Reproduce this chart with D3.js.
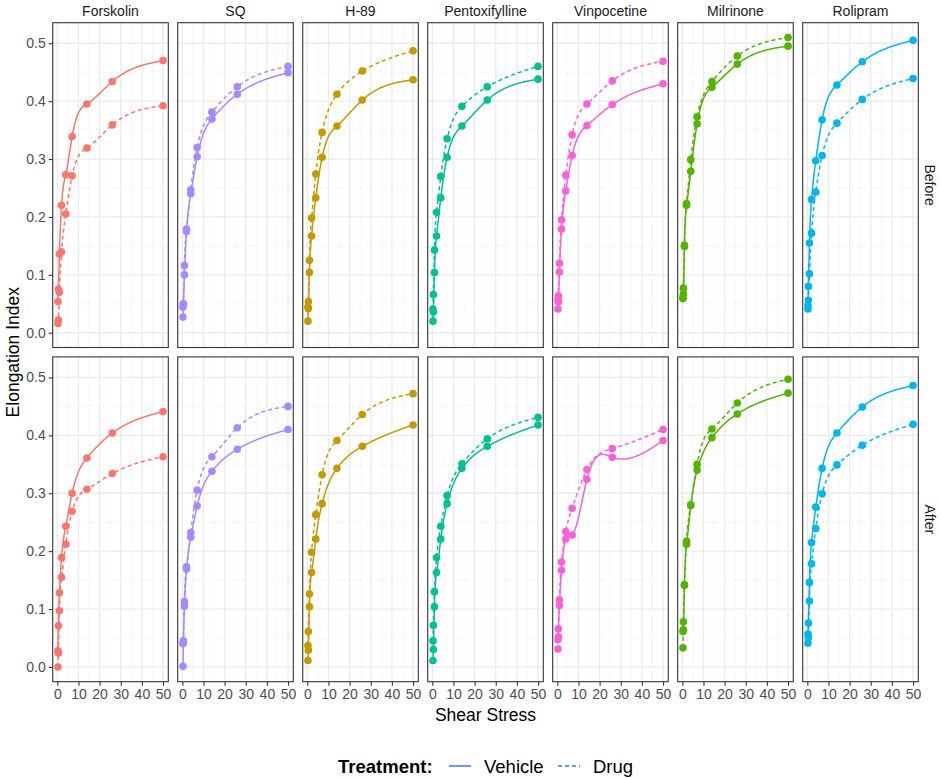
<!DOCTYPE html>
<html>
<head>
<meta charset="utf-8">
<script src="https://cdn.jsdelivr.net/npm/d3@7"></script>
<style>
  body { margin: 0; background: #fff; }
  text { font-family: "Liberation Sans", Arial, sans-serif; }
</style>
</head>
<body>
<div id="chart"></div>
<script>
var shearStress = [0.3, 0.5, 1, 2, 4, 7, 14, 26, 50];
var drugs = ['Forskolin', 'SQ', 'H-89', 'Pentoxifylline', 'Vinpocetine', 'Milrinone', 'Rolipram'];
var phases = ['Before', 'After'];
var treatments = ['Vehicle', 'Drug'];
var drugColors = ['#F8766D', '#A58AFF', '#C49A00', '#00C094', '#FB61D7', '#53B400', '#00B6EB'];
var xTicks = [0, 10, 20, 30, 40, 50];
var yTicks = [0, 0.1, 0.2, 0.3, 0.4, 0.5];

// one row per drug, same order as drugs
var vehicleBefore = [
  [0.054, 0.075, 0.136, 0.220, 0.273, 0.339, 0.395, 0.434, 0.470],
  [0.027, 0.049, 0.100, 0.175, 0.240, 0.304, 0.369, 0.412, 0.449],
  [0.020, 0.042, 0.104, 0.167, 0.233, 0.303, 0.357, 0.402, 0.437],
  [0.020, 0.036, 0.104, 0.167, 0.233, 0.303, 0.357, 0.402, 0.438],
  [0.041, 0.053, 0.105, 0.179, 0.245, 0.306, 0.358, 0.394, 0.430],
  [0.059, 0.067, 0.149, 0.220, 0.279, 0.361, 0.424, 0.464, 0.495],
  [0.047, 0.080, 0.155, 0.230, 0.297, 0.368, 0.428, 0.468, 0.505]
];
var drugBefore = [
  [0.016, 0.022, 0.070, 0.140, 0.205, 0.271, 0.319, 0.359, 0.392],
  [0.044, 0.050, 0.116, 0.179, 0.247, 0.320, 0.381, 0.425, 0.460],
  [0.045, 0.054, 0.125, 0.198, 0.274, 0.346, 0.412, 0.452, 0.487],
  [0.041, 0.066, 0.143, 0.208, 0.270, 0.335, 0.391, 0.425, 0.460],
  [0.058, 0.064, 0.120, 0.195, 0.272, 0.342, 0.395, 0.435, 0.469],
  [0.061, 0.077, 0.151, 0.223, 0.299, 0.373, 0.434, 0.478, 0.510],
  [0.041, 0.056, 0.102, 0.172, 0.243, 0.306, 0.362, 0.403, 0.439]
];
var vehicleAfter = [
  [0.028, 0.071, 0.128, 0.189, 0.243, 0.300, 0.361, 0.404, 0.441],
  [0.001, 0.042, 0.105, 0.169, 0.224, 0.278, 0.338, 0.376, 0.410],
  [0.011, 0.029, 0.104, 0.163, 0.221, 0.282, 0.343, 0.381, 0.418],
  [0.011, 0.030, 0.104, 0.163, 0.221, 0.282, 0.343, 0.381, 0.418],
  [0.047, 0.066, 0.106, 0.167, 0.221, 0.228, 0.324, 0.362, 0.391],
  [0.061, 0.064, 0.141, 0.212, 0.279, 0.340, 0.396, 0.437, 0.473],
  [0.057, 0.076, 0.146, 0.215, 0.276, 0.343, 0.404, 0.449, 0.486]
];
var drugAfter = [
  [0.000, 0.024, 0.097, 0.155, 0.212, 0.269, 0.307, 0.334, 0.363],
  [0.040, 0.045, 0.113, 0.173, 0.232, 0.305, 0.363, 0.413, 0.450],
  [0.037, 0.061, 0.126, 0.198, 0.263, 0.332, 0.391, 0.436, 0.472],
  [0.045, 0.072, 0.130, 0.189, 0.243, 0.296, 0.351, 0.394, 0.431],
  [0.031, 0.052, 0.116, 0.181, 0.234, 0.274, 0.341, 0.377, 0.410],
  [0.033, 0.078, 0.142, 0.217, 0.280, 0.350, 0.411, 0.456, 0.497],
  [0.041, 0.051, 0.114, 0.178, 0.239, 0.299, 0.349, 0.383, 0.419]
];
var seriesTable = {
  Before: {Vehicle: vehicleBefore, Drug: drugBefore},
  After: {Vehicle: vehicleAfter, Drug: drugAfter}
};

var panelLeft = 52.7, panelTop = 22.7, pw = 115.6, ph = 324.8, gap = 9.4;

var x = d3.scaleLinear()
  .domain([0.3 - 49.7 * 0.05, 50 + 49.7 * 0.05])
  .range([0, pw]);
var y = d3.scaleLinear()
  .domain([-0.0255, 0.5355])
  .range([ph, 0]);

// natural cubic spline through the points, evaluated along x
function spline(xs, ys){
  var n = xs.length, h = [], m = new Array(n).fill(0);
  for (var i = 0; i < n - 1; i++) h.push(xs[i+1] - xs[i]);
  var a = [], b = [], c = [], r = [];
  for (var i = 1; i < n - 1; i++){
    a.push(h[i-1]); b.push(2 * (h[i-1] + h[i])); c.push(h[i]);
    r.push(6 * ((ys[i+1] - ys[i]) / h[i] - (ys[i] - ys[i-1]) / h[i-1]));
  }
  var k = r.length;
  for (var i = 1; i < k; i++){
    var w = a[i] / b[i-1];
    b[i] -= w * c[i-1]; r[i] -= w * r[i-1];
  }
  var sol = new Array(k);
  sol[k-1] = r[k-1] / b[k-1];
  for (var i = k - 2; i >= 0; i--) sol[i] = (r[i] - c[i] * sol[i+1]) / b[i];
  for (var i = 0; i < k; i++) m[i+1] = sol[i];
  return function(t){
    var j = 0;
    while (j < n - 2 && t > xs[j+1]) j++;
    var hj = h[j], A = (xs[j+1] - t) / hj, B = (t - xs[j]) / hj;
    return A * ys[j] + B * ys[j+1] + ((A*A*A - A) * m[j] + (B*B*B - B) * m[j+1]) * hj * hj / 6;
  };
}

var svg = d3.select('#chart')
  .append('svg')
  .attr('width', 941)
  .attr('height', 778);

var line = d3.line()
  .x(function(d){ return x(d[0]); })
  .y(function(d){ return y(d[1]); });

phases.forEach(function(phase, row){
  drugs.forEach(function(drug, col){
    var g = svg.append('g')
      .attr('transform', 'translate(' + (panelLeft + col * (pw + gap)) + ',' + (panelTop + row * (ph + gap)) + ')');

    // grid
    g.selectAll('line.minx').data([5, 15, 25, 35, 45]).enter().append('line')
      .attr('x1', x).attr('x2', x).attr('y1', 0).attr('y2', ph)
      .attr('stroke', '#f2f2f2').attr('stroke-width', 0.7);
    g.selectAll('line.miny').data([0.05, 0.15, 0.25, 0.35, 0.45]).enter().append('line')
      .attr('y1', y).attr('y2', y).attr('x1', 0).attr('x2', pw)
      .attr('stroke', '#f2f2f2').attr('stroke-width', 0.7);
    g.selectAll('line.majx').data(xTicks).enter().append('line')
      .attr('x1', x).attr('x2', x).attr('y1', 0).attr('y2', ph)
      .attr('stroke', '#ebebeb').attr('stroke-width', 1.3);
    g.selectAll('line.majy').data(yTicks).enter().append('line')
      .attr('y1', y).attr('y2', y).attr('x1', 0).attr('x2', pw)
      .attr('stroke', '#ebebeb').attr('stroke-width', 1.3);

    treatments.forEach(function(tr){
      var vals = seriesTable[phase][tr][col];
      var f = spline(shearStress, vals);
      var pts = d3.range(0, 401).map(function(i){
        var t = 0.3 + (50 - 0.3) * i / 400;
        return [t, f(t)];
      });
      shearStress.forEach(function(s, i){ pts.push([s, vals[i]]); });
      pts.sort(function(p, q){ return p[0] - q[0]; });
      g.append('path')
        .attr('d', line(pts))
        .attr('fill', 'none')
        .attr('stroke', drugColors[col])
        .attr('stroke-width', 1.5)
        .attr('stroke-dasharray', tr === 'Drug' ? '4,3' : null);
      g.selectAll('circle.' + tr).data(vals).enter().append('circle')
        .attr('cx', function(d, i){ return x(shearStress[i]); })
        .attr('cy', function(d){ return y(d); })
        .attr('r', 3.8)
        .attr('fill', drugColors[col]);
    });

    g.append('rect')
      .attr('width', pw).attr('height', ph)
      .attr('fill', 'none').attr('stroke', '#333333').attr('stroke-width', 1.1);

    if (row === 0) {
      g.append('text')
        .attr('x', pw / 2).attr('y', -7)
        .attr('text-anchor', 'middle')
        .attr('font-size', 14).attr('fill', '#1a1a1a')
        .text(drug);
    }
    if (col === drugs.length - 1) {
      g.append('text')
        .attr('transform', 'translate(' + (pw + 7) + ',' + (ph / 2) + ') rotate(90)')
        .attr('text-anchor', 'middle')
        .attr('font-size', 14).attr('fill', '#1a1a1a')
        .text(phase);
    }
    if (col === 0) {
      var ya = g.append('g').call(d3.axisLeft(y).tickValues(yTicks).tickFormat(d3.format('.1f')).tickSize(4).tickSizeOuter(0));
      ya.select('.domain').remove();
      ya.selectAll('line').attr('stroke', '#333333').attr('stroke-width', 1.1);
      ya.selectAll('text').attr('font-size', 14).attr('fill', '#4d4d4d')
        .attr('font-family', '"Liberation Sans", Arial, sans-serif').attr('x', -7);
    }
    if (row === 1) {
      var xa = g.append('g').attr('transform', 'translate(0,' + ph + ')')
        .call(d3.axisBottom(x).tickValues(xTicks).tickSize(4).tickSizeOuter(0));
      xa.select('.domain').remove();
      xa.selectAll('line').attr('stroke', '#333333').attr('stroke-width', 1.1);
      xa.selectAll('text').attr('font-size', 14).attr('fill', '#4d4d4d')
        .attr('font-family', '"Liberation Sans", Arial, sans-serif').attr('y', 7);
    }
  });
});

var gridRight = panelLeft + drugs.length * (pw + gap) - gap;

svg.append('text')
  .attr('transform', 'translate(19,' + (panelTop + ph + gap / 2) + ') rotate(-90)')
  .attr('text-anchor', 'middle')
  .attr('font-size', 17.5).attr('fill', '#000')
  .text('Elongation Index');

svg.append('text')
  .attr('x', (panelLeft + gridRight) / 2).attr('y', 721)
  .attr('text-anchor', 'middle')
  .attr('font-size', 17.5).attr('fill', '#000')
  .text('Shear Stress');

// legend
var lg = svg.append('g').attr('transform', 'translate(338,766)');
lg.append('text').attr('x', 0).attr('y', 6.5)
  .attr('font-size', 18.5).attr('font-weight', 'bold').attr('fill', '#000')
  .text('Treatment:');
var legendItems = [
  {label: 'Vehicle', dash: null, lx: 111, tx: 146},
  {label: 'Drug', dash: '4,3', lx: 220, tx: 255}
];
legendItems.forEach(function(d){
  lg.append('line')
    .attr('x1', d.lx).attr('x2', d.lx + 22).attr('y1', 0).attr('y2', 0)
    .attr('stroke', '#4372f0').attr('stroke-width', 1.5)
    .attr('stroke-dasharray', d.dash);
  lg.append('text').attr('x', d.tx).attr('y', 6.5)
    .attr('font-size', 18.5).attr('fill', '#000')
    .text(d.label);
});
</script>
</body>
</html>
